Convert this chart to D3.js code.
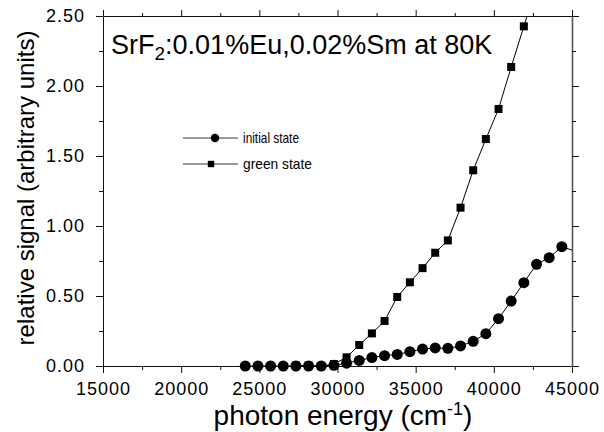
<!DOCTYPE html>
<html><head><meta charset="utf-8">
<script src="https://cdn.jsdelivr.net/npm/d3@7"></script>
<style>body{margin:0;background:#fff}svg{display:block}</style>
</head><body><svg id="c" width="604" height="432"></svg>
<script>
// ---- data ----
const energy = [24100, 24910, 25720, 26530, 27340, 28150, 28960, 29770, 30580, 31390, 32200, 33010, 33820, 34630, 35440, 36250, 37060, 37870, 38680, 39490, 40300, 41110, 41920, 42730, 43540, 44350, 45160];
const initialState = [0.00, 0.00, 0.00, 0.00, 0.00, 0.00, 0.00, 0.005, 0.02, 0.04, 0.06, 0.074, 0.083, 0.102, 0.121, 0.129, 0.126, 0.143, 0.176, 0.231, 0.338, 0.464, 0.595, 0.726, 0.774, 0.852, 0.822];
const greenEnergy = [27340, 28150, 28960, 29770, 30580, 31390, 32200, 33010, 33820, 34630, 35440, 36250, 37060, 37870, 38680, 39490, 40300, 41110, 41920, 42730];
const greenState = [0.003, 0.003, 0.00, 0.014, 0.062, 0.15, 0.233, 0.322, 0.493, 0.598, 0.699, 0.809, 0.897, 1.131, 1.398, 1.621, 1.836, 2.136, 2.426, 2.72];
const xTicks = [15000, 20000, 25000, 30000, 35000, 40000, 45000];
const xMinor = [17500, 22500, 27500, 32500, 37500, 42500];
const yTicks = [0, 0.5, 1.0, 1.5, 2.0, 2.5];
const yMinor = [0.25, 0.75, 1.25, 1.75, 2.25];
const seriesNames = ["initial state", "green state"];

// ---- layout ----
const svg = d3.select("#c");
const L = 103, R = 572, T = 16, B = 366;
const x = d3.scaleLinear().domain([15000, 45000]).range([L, R]);
const y = d3.scaleLinear().domain([0, 2.5]).range([B, T]);
const font = "'Liberation Sans', Arial, Helvetica, sans-serif";

svg.append("rect").attr("width", 604).attr("height", 432).attr("fill", "#fff");

svg.append("clipPath").attr("id", "clip")
  .append("rect").attr("x", 0).attr("y", T).attr("width", R).attr("height", 432 - T);

function styleAxis(g, sw) {
  g.selectAll("path.domain").attr("stroke", "#111").attr("stroke-width", sw);
  g.selectAll(".tick line").attr("stroke", "#111").attr("stroke-width", 1);
  g.selectAll("text").attr("fill", "#000").style("font-family", font)
    .style("font-size", "18px").style("letter-spacing", "1px");
}
// bottom
const gb = svg.append("g").attr("transform", `translate(0,${B})`)
  .call(d3.axisBottom(x).tickValues(xTicks).tickSize(7).tickSizeOuter(0).tickPadding(9).tickFormat(d3.format("d")));
styleAxis(gb, 1);
const gbm = svg.append("g").attr("transform", `translate(0,${B})`)
  .call(d3.axisBottom(x).tickValues(xMinor).tickSize(4).tickFormat(""));
gbm.select("path.domain").remove(); styleAxis(gbm, 1);
// top
const gt = svg.append("g").attr("transform", `translate(0,${T})`)
  .call(d3.axisTop(x).tickValues(xTicks).tickSize(6).tickSizeOuter(0).tickFormat(""));
styleAxis(gt, 1);
const gtm = svg.append("g").attr("transform", `translate(0,${T})`)
  .call(d3.axisTop(x).tickValues(xMinor).tickSize(3).tickFormat(""));
gtm.select("path.domain").remove(); styleAxis(gtm, 1);
// left
const gl = svg.append("g").attr("transform", `translate(${L},0)`)
  .call(d3.axisLeft(y).tickValues(yTicks).tickSize(7).tickSizeOuter(0).tickPadding(11).tickFormat(d3.format(".2f")));
styleAxis(gl, 1);
const glm = svg.append("g").attr("transform", `translate(${L},0)`)
  .call(d3.axisLeft(y).tickValues(yMinor).tickSize(4).tickFormat(""));
glm.select("path.domain").remove(); styleAxis(glm, 1);
// right
const gr = svg.append("g").attr("transform", `translate(${R},0)`)
  .call(d3.axisRight(y).tickValues(yTicks).tickSize(7).tickSizeOuter(0).tickFormat(""));
styleAxis(gr, 1.6);
gr.select("path.domain").attr("stroke", "#555");
const grm = svg.append("g").attr("transform", `translate(${R},0)`)
  .call(d3.axisRight(y).tickValues(yMinor).tickSize(4).tickFormat(""));
grm.select("path.domain").remove(); styleAxis(grm, 1);

// ---- series ----
const plot = svg.append("g").attr("clip-path", "url(#clip)");
const greenPts = greenEnergy.map((e, i) => [e, greenState[i]]);
const initPts = energy.map((e, i) => [e, initialState[i]]);
const line = d3.line().x(d => x(d[0])).y(d => y(d[1]));
const inside = d => d[0] <= x.domain()[1] && d[1] <= y.domain()[1];

plot.append("path").datum(greenPts).attr("d", line)
  .attr("fill", "none").attr("stroke", "#000").attr("stroke-width", 1);
plot.append("path").datum(initPts).attr("d", line)
  .attr("fill", "none").attr("stroke", "#000").attr("stroke-width", 1);

const sq = 8;
plot.selectAll("rect.g").data(greenPts.filter(inside)).join("rect").attr("class", "g")
  .attr("x", d => x(d[0]) - sq / 2).attr("y", d => y(d[1]) - sq / 2)
  .attr("width", sq).attr("height", sq).attr("fill", "#000");
plot.selectAll("circle.i").data(initPts.filter(inside)).join("circle").attr("class", "i")
  .attr("cx", d => x(d[0])).attr("cy", d => y(d[1])).attr("r", 5.5).attr("fill", "#000");

// ---- legend ----
const leg = svg.append("g");
const legY = [138, 164];
const legW = [56, 69];
seriesNames.forEach((name, i) => {
  const yy = legY[i];
  leg.append("line").attr("x1", 183).attr("x2", 238).attr("y1", yy).attr("y2", yy)
    .attr("stroke", "#000").attr("stroke-width", 0.8);
  if (i === 0) {
    leg.append("circle").attr("cx", 215).attr("cy", yy).attr("r", 4.2).attr("fill", "#000");
  } else {
    leg.append("rect").attr("x", 211 - 3.2).attr("y", yy - 3.2).attr("width", 6.4).attr("height", 6.4).attr("fill", "#000");
  }
  leg.append("text").attr("x", 243).attr("y", yy + 5)
    .attr("textLength", legW[i]).attr("lengthAdjust", "spacingAndGlyphs")
    .style("font-family", "'Liberation Sans Narrow', 'Arial Narrow', " + font)
    .style("font-size", "15px").attr("fill", "#000").text(name);
});

// ---- title ----
const title = svg.append("text").attr("x", 111).attr("y", 54)
  .style("font-family", font).style("font-size", "27px").attr("fill", "#000");
title.append("tspan").text("SrF");
title.append("tspan").attr("dy", 6).style("font-size", "19px").text("2");
title.append("tspan").attr("dy", -6).text(":0.01%Eu,0.02%Sm at 80K");

// ---- axis titles ----
const xt = svg.append("text").attr("x", 343).attr("y", 425).attr("text-anchor", "middle")
  .style("font-family", font).style("font-size", "28px").attr("fill", "#000");
xt.append("tspan").text("photon energy (cm");
xt.append("tspan").attr("dy", -10).style("font-size", "18px").text("-1");
xt.append("tspan").attr("dy", 10).text(")");

svg.append("text").attr("transform", "translate(34,188) rotate(-90)")
  .attr("text-anchor", "middle")
  .style("font-family", font).style("font-size", "24px").attr("fill", "#000")
  .text("relative signal (arbitrary units)");
</script>
</body></html>
